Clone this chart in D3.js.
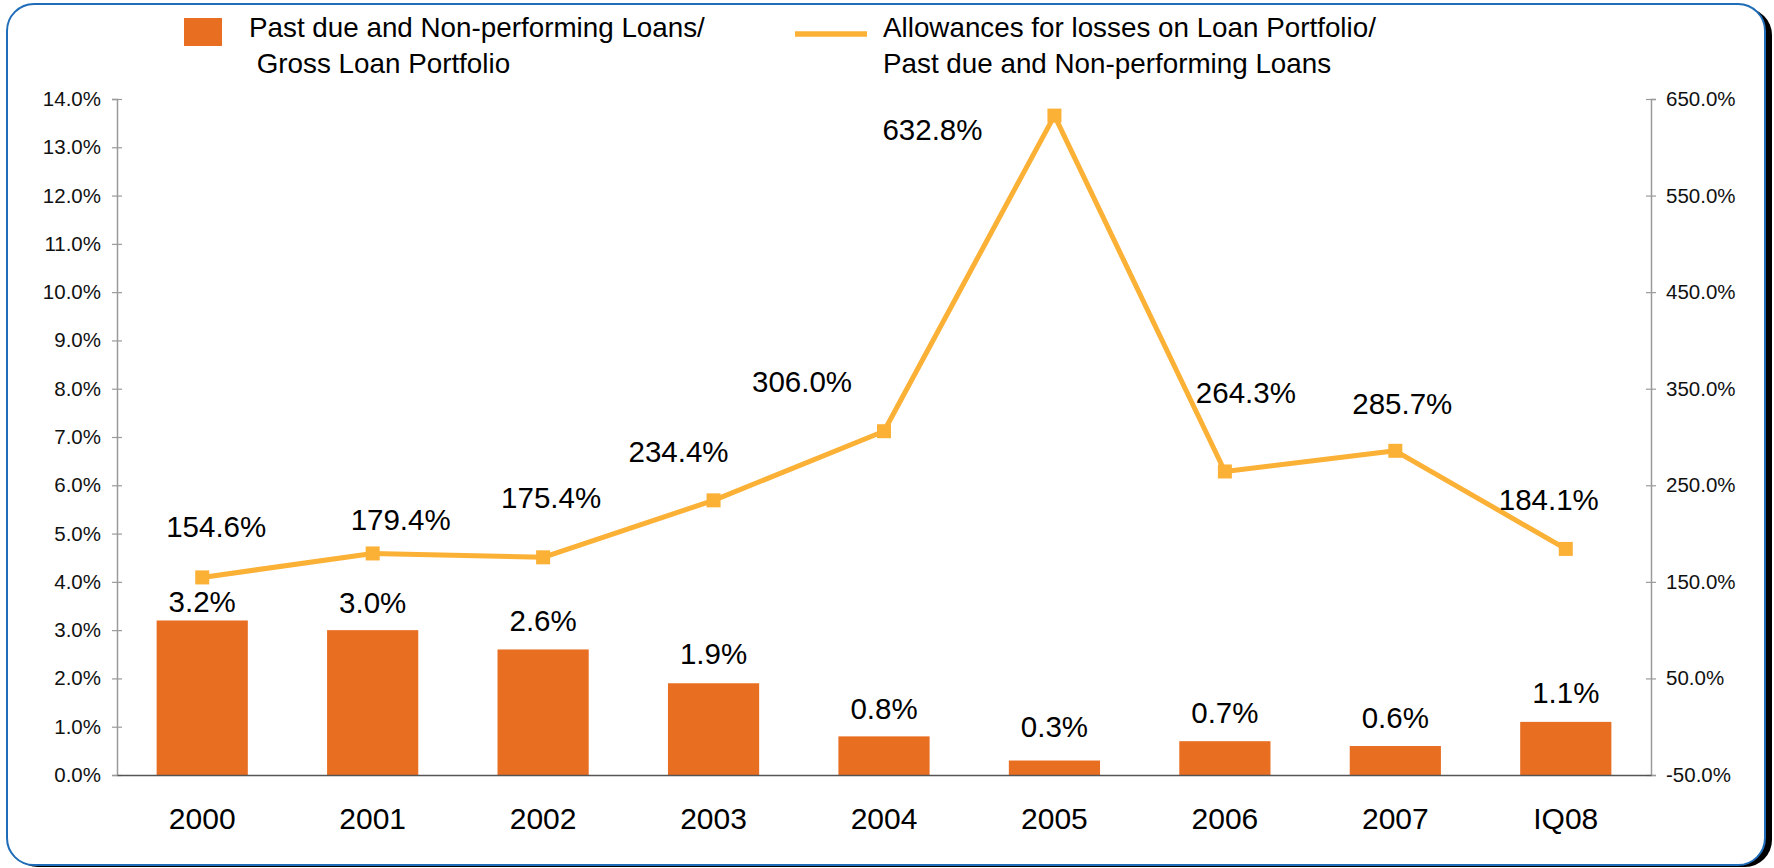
<!DOCTYPE html>
<html>
<head>
<meta charset="utf-8">
<script src="https://cdn.jsdelivr.net/npm/d3@7"></script>
<style>
  html, body { margin: 0; padding: 0; background: #fff; }
  svg { display: block; font-family: "Liberation Sans", Arial, sans-serif; }
</style>
</head>
<body>
<svg id="chart" width="1774" height="868"></svg>
<script>
// Asset-quality indicators by period
const categories = ["2000", "2001", "2002", "2003", "2004", "2005", "2006", "2007", "IQ08"];
// Past due and non-performing loans / gross loan portfolio (%)
const nplRatio = [3.2, 3.0, 2.6, 1.9, 0.8, 0.3, 0.7, 0.6, 1.1];
// Allowances for losses / past due and non-performing loans (%)
const coverageRatio = [154.6, 179.4, 175.4, 234.4, 306.0, 632.8, 264.3, 285.7, 184.1];
const leftTicks = [0, 1, 2, 3, 4, 5, 6, 7, 8, 9, 10, 11, 12, 13, 14];
const rightTicks = [-50, 50, 150, 250, 350, 450, 550, 650];
const legendBar = ["Past due and Non-performing Loans/", " Gross Loan Portfolio"];
const legendLine = ["Allowances for losses on Loan Portfolio/", "Past due and Non-performing Loans"];

// Label placement nudges (px), kept apart from the values
const barLabelLift = [8, 17, 18, 19, 17, 24, 18, 18, 19];
const lineLabelShift = [[14, -40], [28, -23], [8, -49], [-35, -38], [-82, -39], [-122, 24], [21, -68], [7, -37], [-17, -39]];

const BAR = "#E86E22";
const LINE = "#FBB036";

const svg = d3.select("#chart");

// Frame with drop shadow
svg.append("rect").attr("x", 11).attr("y", 8).attr("width", 1761).attr("height", 859)
  .attr("rx", 27).attr("fill", "#000");
svg.append("rect").attr("x", 7).attr("y", 4).attr("width", 1758).attr("height", 861)
  .attr("rx", 27).attr("fill", "#fff").attr("stroke", "#1F6DB8").attr("stroke-width", 2);

const plot = { left: 117, right: 1651, top: 99, bottom: 775 };

const x = d3.scaleBand().domain(categories).range([plot.left, plot.right])
  .paddingInner(0.465).paddingOuter(0.2325);
const yL = d3.scaleLinear().domain([0, 14]).range([plot.bottom, plot.top]);
const yR = d3.scaleLinear().domain([-50, 650]).range([plot.bottom, plot.top]);

// Left axis
const gL = svg.append("g").attr("transform", `translate(${plot.left},0)`)
  .call(d3.axisLeft(yL).tickValues(leftTicks).tickSize(5).tickPadding(11)
    .tickFormat(d => d.toFixed(1) + "%"));
gL.select(".domain").attr("stroke", "#9a9a9a").attr("stroke-width", 1.5);
gL.selectAll(".tick line").attr("x1", 5).attr("stroke", "#9a9a9a").attr("stroke-width", 1.2);
gL.selectAll(".tick text").attr("font-size", 20.5).attr("fill", "#111")
  .attr("font-family", "'Liberation Sans', Arial, sans-serif");

// Right axis
const gR = svg.append("g").attr("transform", `translate(${plot.right},0)`)
  .call(d3.axisRight(yR).tickValues(rightTicks).tickSize(5).tickPadding(10)
    .tickFormat(d => d.toFixed(1) + "%"));
gR.select(".domain").attr("stroke", "#9a9a9a").attr("stroke-width", 1.5);
gR.selectAll(".tick line").attr("x1", -5).attr("stroke", "#9a9a9a").attr("stroke-width", 1.2);
gR.selectAll(".tick text").attr("font-size", 20.5).attr("fill", "#111")
  .attr("font-family", "'Liberation Sans', Arial, sans-serif");

// Bars
svg.append("g").selectAll("rect").data(categories).join("rect")
  .attr("x", d => x(d))
  .attr("y", (d, i) => yL(nplRatio[i]))
  .attr("width", x.bandwidth())
  .attr("height", (d, i) => yL(0) - yL(nplRatio[i]))
  .attr("fill", BAR);

// Category axis
const gX = svg.append("g").attr("transform", `translate(0,${plot.bottom})`)
  .call(d3.axisBottom(x).tickSize(0).tickPadding(33));
gX.select(".domain").attr("stroke", "#555").attr("stroke-width", 1.5);
gX.selectAll(".tick text").attr("font-size", 30).attr("fill", "#000")
  .attr("font-family", "'Liberation Sans', Arial, sans-serif");

// Bar value labels
svg.append("g").selectAll("text").data(categories).join("text")
  .attr("x", d => x(d) + x.bandwidth() / 2)
  .attr("y", (d, i) => yL(nplRatio[i]) - barLabelLift[i])
  .attr("text-anchor", "middle").attr("font-size", 29.5).attr("fill", "#000")
  .text((d, i) => nplRatio[i].toFixed(1) + "%");

// Coverage line
const cx = d => x(d) + x.bandwidth() / 2;
const line = d3.line().x(d => cx(d.c)).y(d => yR(d.v));
const pts = categories.map((c, i) => ({ c, v: coverageRatio[i] }));
svg.append("path").datum(pts).attr("d", line)
  .attr("fill", "none").attr("stroke", LINE).attr("stroke-width", 5).attr("stroke-linejoin", "round");
svg.append("g").selectAll("rect").data(pts).join("rect")
  .attr("x", d => cx(d.c) - 7).attr("y", d => yR(d.v) - 7)
  .attr("width", 14).attr("height", 14).attr("fill", LINE);

// Line value labels
svg.append("g").selectAll("text").data(pts).join("text")
  .attr("x", (d, i) => cx(d.c) + lineLabelShift[i][0])
  .attr("y", (d, i) => yR(d.v) + lineLabelShift[i][1])
  .attr("text-anchor", "middle").attr("font-size", 29.5).attr("fill", "#000")
  .text(d => d.v.toFixed(1) + "%");

// Legend
const leg = svg.append("g").attr("font-size", 27.8).attr("fill", "#000");
leg.append("rect").attr("x", 184).attr("y", 18).attr("width", 38).attr("height", 28).attr("fill", BAR);
leg.append("text").attr("x", 249).attr("y", 37).text(legendBar[0]);
leg.append("text").attr("x", 249).attr("y", 73).attr("xml:space", "preserve")
  .style("white-space", "pre").text(legendBar[1]);
leg.append("line").attr("x1", 795).attr("x2", 867).attr("y1", 34).attr("y2", 34)
  .attr("stroke", LINE).attr("stroke-width", 5.5);
leg.append("text").attr("x", 883).attr("y", 37).text(legendLine[0]);
leg.append("text").attr("x", 883).attr("y", 73).text(legendLine[1]);
</script>
</body>
</html>
